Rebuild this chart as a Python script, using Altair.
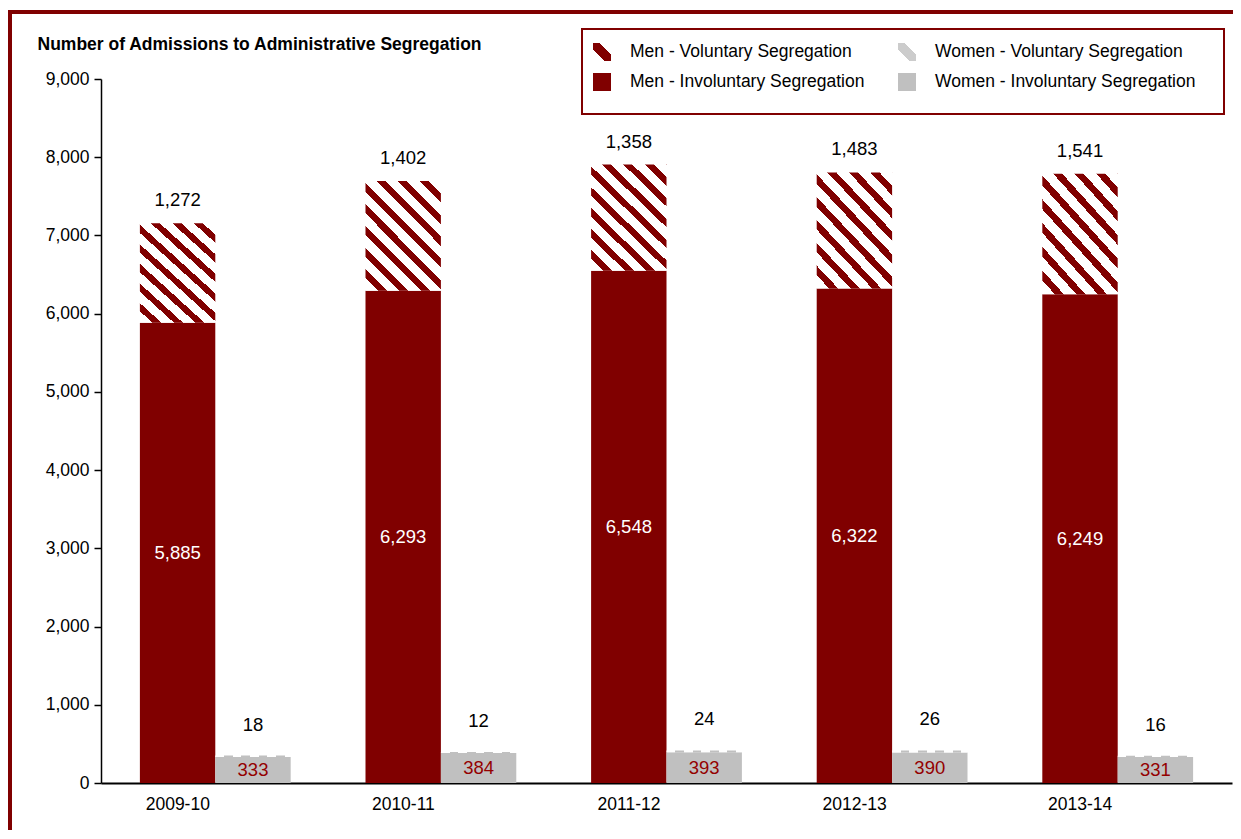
import altair as alt
import pandas as pd

# ---------------- data ----------------
years = ["2009-10", "2010-11", "2011-12", "2012-13", "2013-14"]
men_involuntary = [5885, 6293, 6548, 6322, 6249]
men_voluntary = [1272, 1402, 1358, 1483, 1541]
women_involuntary = [333, 384, 393, 390, 331]
women_voluntary = [18, 12, 24, 26, 16]
sexes = ["Men", "Women"]
y_ticks = [0, 1000, 2000, 3000, 4000, 5000, 6000, 7000, 8000, 9000]
legend_labels = [
    "Men - Voluntary Segregation",
    "Men - Involuntary Segregation",
    "Women - Voluntary Segregation",
    "Women - Involuntary Segregation",
]
y_title = "Number of Admissions to Administrative Segregation"

rows = []
for i, yr in enumerate(years):
    rows.append(dict(year=yr, sex="Men", involuntary=men_involuntary[i], voluntary=men_voluntary[i]))
    rows.append(dict(year=yr, sex="Women", involuntary=women_involuntary[i], voluntary=women_voluntary[i]))
df = pd.DataFrame(rows)

# ---------------- styles ----------------
DARK = "#800000"
GRAY = "#c0c0c0"
FONT = "Liberation Sans"


def stripe_gradient(color, period, frac, x1, y1, x2, y2, start=0.0):
    stops = []
    t = start
    while t < 1.0:
        a = max(0.0, t)
        b = min(1.0, t + period * (1 - frac))
        c = min(1.0, t + period)
        if b > a:
            stops.append(alt.GradientStop(color="#ffffff", offset=a))
            stops.append(alt.GradientStop(color="#ffffff", offset=b))
        if c > b:
            stops.append(alt.GradientStop(color=color, offset=b))
            stops.append(alt.GradientStop(color=color, offset=c))
        t += period
    return alt.LinearGradient(gradient="linear", stops=stops, x1=x1, y1=y1, x2=x2, y2=y2)


men_hatch = stripe_gradient(DARK, 0.092, 0.42, 0, 1, 1, -0.45)
women_hatch = stripe_gradient(GRAY, 0.23, 0.5, 0, 0, 1, 0)


def single_stripe(color):
    return alt.LinearGradient(
        gradient="linear",
        stops=[
            alt.GradientStop(color="#ffffff", offset=0),
            alt.GradientStop(color="#ffffff", offset=0.32),
            alt.GradientStop(color=color, offset=0.32),
            alt.GradientStop(color=color, offset=0.68),
            alt.GradientStop(color="#ffffff", offset=0.68),
            alt.GradientStop(color="#ffffff", offset=1),
        ],
        x1=0, y1=1, x2=1, y2=0,
    )


# ---------------- encodings ----------------
X = alt.X(
    "year:N",
    sort=years,
    scale=alt.Scale(paddingInner=0.3316, paddingOuter=0.1724),
    axis=alt.Axis(
        title=None, labelAngle=0, labelOffset=-37.5, ticks=False,
        domainColor="#000000", domainWidth=2, labelPadding=12,
        labelFont=FONT, labelFontSize=17.5, labelColor="#000000",
    ),
)
XO = alt.XOffset("sex:N", sort=sexes, scale=alt.Scale(paddingInner=0, paddingOuter=0))

y_axis = alt.Axis(
    values=y_ticks, format=",.0f", grid=False,
    title=y_title, titleAngle=0, titleX=-64, titleY=-35, titleAlign="left",
    titleBaseline="middle", titleFont=FONT, titleFontSize=17.5, titleFontWeight="bold",
    titleColor="#000000",
    domainColor="#000000", domainWidth=1.5, tickColor="#000000", tickSize=7, tickWidth=1.5,
    labelFont=FONT, labelFontSize=17.5, labelColor="#000000", labelPadding=5,
)
y_scale = alt.Scale(domain=[0, 9000], nice=False)


def Y(field):
    return alt.Y(field, scale=y_scale, axis=y_axis)


base = alt.Chart(df).encode(x=X, xOffset=XO).transform_calculate(
    total="datum.involuntary + datum.voluntary",
    mid="datum.involuntary / 2",
)

inv_bars = base.mark_bar().encode(
    y=Y("involuntary:Q"),
    color=alt.Color("sex:N", scale=alt.Scale(domain=sexes, range=[DARK, GRAY]), legend=None),
)

men_vol = base.transform_filter("datum.sex == 'Men'").mark_bar(fill=men_hatch).encode(
    y=Y("involuntary:Q"), y2="total:Q"
)
women_vol = base.transform_filter("datum.sex == 'Women'").mark_bar(fill=women_hatch).encode(
    y=Y("involuntary:Q"), y2="total:Q"
)

txt_common = dict(font=FONT, fontSize=18.5, baseline="middle", align="center")

men_inv_lbl = base.transform_filter("datum.sex == 'Men'").mark_text(color="#ffffff", **txt_common).encode(
    y=Y("mid:Q"), text=alt.Text("involuntary:Q", format=",")
)
women_inv_lbl = base.transform_filter("datum.sex == 'Women'").mark_text(color="#940000", **txt_common).encode(
    y=Y("mid:Q"), text=alt.Text("involuntary:Q", format=",")
)
men_vol_lbl = base.transform_filter("datum.sex == 'Men'").mark_text(color="#000000", dy=-23, **txt_common).encode(
    y=Y("total:Q"), text=alt.Text("voluntary:Q", format=",")
)
women_vol_lbl = base.transform_filter("datum.sex == 'Women'").mark_text(color="#000000", dy=-31, **txt_common).encode(
    y=Y("total:Q"), text=alt.Text("voluntary:Q", format=",")
)

one = alt.InlineData(values=[{"k": 1}])

frame = alt.Chart(one).mark_rect(fillOpacity=0, stroke=DARK, strokeWidth=4).encode(
    x=alt.value(-91), x2=alt.value(1300), y=alt.value(-67), y2=alt.value(950)
)

legend_box = alt.Chart(one).mark_rect(fill="#ffffff", stroke=DARK, strokeWidth=2).encode(
    x=alt.value(481), x2=alt.value(1123), y=alt.value(-50), y2=alt.value(35)
)

legend_fills = [single_stripe(DARK), DARK, single_stripe("#cccccc"), GRAY]
legend_pos = [(492, -27), (492, 3), (797, -27), (797, 3)]
legend_layers = []
for lab, fill, (lx, ly) in zip(legend_labels, legend_fills, legend_pos):
    legend_layers.append(
        alt.Chart(one).mark_rect(fill=fill).encode(
            x=alt.value(lx), x2=alt.value(lx + 18), y=alt.value(ly - 9), y2=alt.value(ly + 9)
        )
    )
    legend_layers.append(
        alt.Chart(one).mark_text(
            text=lab, font=FONT, fontSize=17.5, align="left", baseline="middle", color="#000000"
        ).encode(x=alt.value(lx + 37), y=alt.value(ly))
    )

chart = alt.layer(
    frame, inv_bars, men_vol, women_vol,
    men_inv_lbl, women_inv_lbl, men_vol_lbl, women_vol_lbl,
    legend_box, *legend_layers,
).properties(
    width=1131, height=704,
    background="#ffffff",
    autosize=alt.AutoSizeParams(type="none"),
    padding={"left": 93, "top": 71, "right": 1, "bottom": 47},
).configure_view(stroke="transparent", strokeWidth=0)

chart.save("out.html", embed_options={"renderer": "svg", "actions": False})
